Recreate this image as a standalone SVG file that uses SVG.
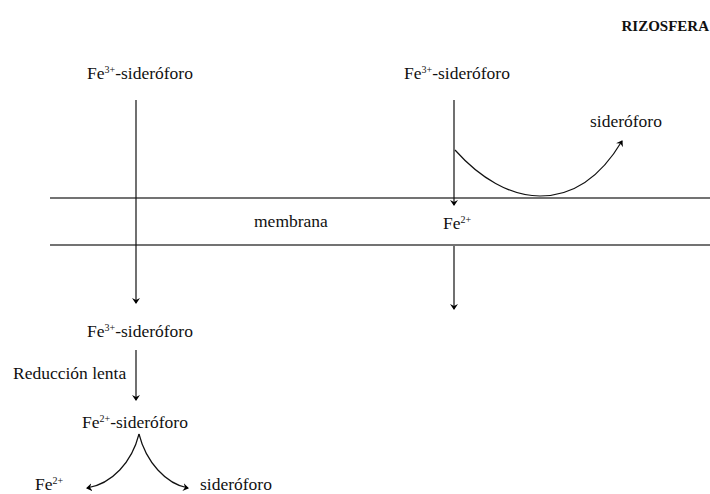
<svg xmlns="http://www.w3.org/2000/svg" width="710" height="494" viewBox="0 0 710 494">
<defs>
<marker id="ah" markerUnits="userSpaceOnUse" markerWidth="10" markerHeight="10" refX="5" refY="4" orient="auto">
<path d="M0,0 L6,4 L0,8 L2,4 z" fill="#000"/>
</marker>
<style>
text{font-family:"Liberation Serif","Times New Roman",serif;font-size:17.5px;fill:#111}
.sup{font-size:10px}
.arr{fill:none;stroke:#111;stroke-width:1.2;marker-end:url(#ah)}
.mem{stroke:#444;stroke-width:1.5}
</style>
</defs>
<rect width="710" height="494" fill="#fff"/>
<g id="membrane">
<line class="mem" x1="50" y1="198" x2="710" y2="198"/>
<line class="mem" x1="50" y1="245" x2="710" y2="245"/>
<text x="254" y="227">membrana</text>
</g>
<text x="709" y="31" text-anchor="end" font-weight="bold" style="font-size:15px">RIZOSFERA</text>
<g id="n-fe3-left"><text x="87" y="79">Fe<tspan class="sup" dy="-6">3+</tspan><tspan dy="6">-sideróforo</tspan></text></g>
<g id="n-fe3-right"><text x="404" y="79">Fe<tspan class="sup" dy="-6">3+</tspan><tspan dy="6">-sideróforo</tspan></text></g>
<g id="n-sid-top"><text x="590" y="127">sideróforo</text></g>
<g id="n-fe2-mem"><text x="443" y="229">Fe<tspan class="sup" dy="-6">2+</tspan></text></g>
<g id="n-fe3-in"><text x="87" y="337">Fe<tspan class="sup" dy="-6">3+</tspan><tspan dy="6">-sideróforo</tspan></text></g>
<g id="n-red"><text x="13" y="379">Reducción lenta</text></g>
<g id="n-fe2-sid"><text x="82" y="428">Fe<tspan class="sup" dy="-6">2+</tspan><tspan dy="6">-sideróforo</tspan></text></g>
<g id="n-fe2-out"><text x="35" y="490">Fe<tspan class="sup" dy="-6">2+</tspan></text></g>
<g id="n-sid-out"><text x="200" y="490">sideróforo</text></g>
<g id="connectors">
<path class="arr" d="M136,100 V303"/>
<path class="arr" d="M454,100 V205"/>
<path class="arr" d="M454,246 V309"/>
<path class="arr" d="M455,150 C480,178 510,196 540,196 C572,196 600,178 622,141"/>
<path class="arr" d="M136,350 V400"/>
<path class="arr" d="M139,434 C132,462 112,484 87,488"/>
<path class="arr" d="M139,434 C146,462 166,484 188,488"/>
</g>
</svg>
